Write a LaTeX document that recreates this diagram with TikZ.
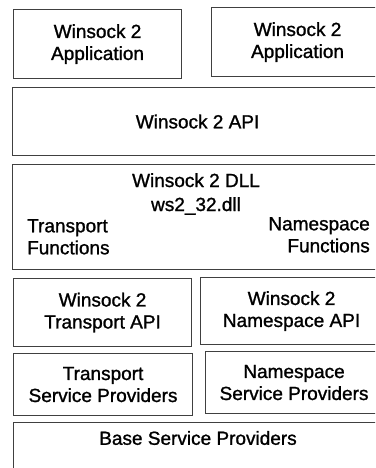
\documentclass[tikz,border=0pt]{standalone}
\usepackage{fontspec}
\setmainfont[FakeBold=1.2]{Liberation Sans}
\begin{document}
\begin{tikzpicture}[x=1pt,y=-1pt,
  layer/.style={draw=black!75, line width=1.1pt, inner sep=0pt, anchor=north west,
    align=center, font=\fontsize{19}{22}\selectfont},
  txt/.style={inner sep=0pt, align=center, font=\fontsize{19}{22}\selectfont}]
\useasboundingbox (0,0) rectangle (375,468);
\clip (0,0) rectangle (375,468);
% application row
\node[layer, minimum width=168pt, minimum height=69pt] (app1) at (13,9) {Winsock 2\\Application};
\node[layer, minimum width=172pt, minimum height=69pt] (app2) at (211,7) {Winsock 2\\Application};
% API layer
\node[layer, minimum width=370pt, minimum height=68pt] (api) at (12,87) {Winsock 2 API};
% DLL layer with its four labels
\node[layer, minimum width=370pt, minimum height=105pt] (dll) at (12,164) {};
\node[txt, anchor=base] (dllname) at (196,187) {Winsock 2 DLL};
\node[txt, anchor=base] (dllfile) at (196,211) {ws2\_32.dll};
\node[txt, anchor=north west, align=left] (tfun) at (27,219) {Transport\\Functions};
\node[txt, anchor=north east, align=right] (nfun) at (370,217) {Namespace\\Functions};
% SPI row
\node[layer, minimum width=178pt, minimum height=68pt] (tapi) at (13,278) {Winsock 2\\Transport API};
\node[layer, minimum width=182pt, minimum height=67pt] (napi) at (200,277) {Winsock 2\\Namespace API};
% provider row
\node[layer, minimum width=179pt, minimum height=62pt] (tsp) at (13,353) {Transport\\Service Providers};
\node[layer, minimum width=177pt, minimum height=62pt] (nsp) at (205,351) {Namespace\\Service Providers};
% base providers
\node[layer, minimum width=370pt, minimum height=70pt] (base) at (13,422) {};
\node[txt] (baselbl) at (198,438) {Base Service Providers};
\end{tikzpicture}
\end{document}
